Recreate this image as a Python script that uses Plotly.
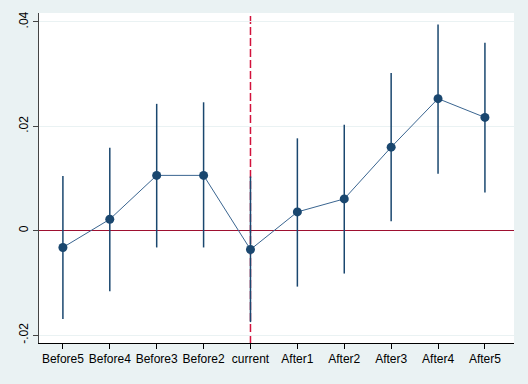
import plotly.graph_objects as go

categories = ["Before5", "Before4", "Before3", "Before2", "current",
              "After1", "After2", "After3", "After4", "After5"]
coef = [-0.0032, 0.0022, 0.0106, 0.0106, -0.0036, 0.0036, 0.0061, 0.0160, 0.0253, 0.0217]
ci_low = [-0.0169, -0.0116, -0.0032, -0.0032, -0.0175, -0.0107, -0.0082, 0.0018, 0.0109, 0.0073]
ci_high = [0.0105, 0.0159, 0.0243, 0.0246, 0.0104, 0.0177, 0.0203, 0.0302, 0.0395, 0.0360]
y_tickvals = [-0.02, 0, 0.02, 0.04]
y_ticktext = ["-.02", "0", ".02", ".04"]

navy = "#1A476F"
err_plus = [h - c for h, c in zip(ci_high, coef)]
err_minus = [c - l for c, l in zip(coef, ci_low)]

fig = go.Figure()
fig.add_trace(go.Scatter(
    x=categories, y=coef, mode="lines+markers",
    line=dict(color="#3A6590", width=1),
    marker=dict(color=navy, size=9),
    error_y=dict(type="data", symmetric=False, array=err_plus, arrayminus=err_minus,
                 color=navy, thickness=1.5, width=0),
    showlegend=False,
))

fig.add_shape(type="line", xref="x", yref="paper", x0="current", x1="current",
              y0=0, y1=1, line=dict(color="#D2123C", width=1.5, dash="8px,3px"), layer="below")

fig.update_layout(
    width=528, height=384,
    margin=dict(l=39, r=14, t=13, b=41),
    paper_bgcolor="#EAF2F3", plot_bgcolor="white",
    font=dict(family="Liberation Sans, Arial, sans-serif", size=12, color="black"),
)
fig.update_xaxes(
    type="category", range=[-0.51, 9.62],
    showgrid=False, showline=True, linecolor="black", linewidth=1,
    ticks="outside", ticklen=5, tickcolor="black", zeroline=False,
)
fig.update_yaxes(
    range=[-0.0215, 0.0417],
    tickvals=y_tickvals, ticktext=y_ticktext, tickangle=-90,
    showgrid=True, gridcolor="#EAF2F3", gridwidth=1,
    showline=True, linecolor="#444444", linewidth=1,
    ticks="outside", ticklen=5, tickcolor="#444444",
    zeroline=True, zerolinecolor="#9E1030", zerolinewidth=1,
)

fig.write_html("out.html", config={"displayModeBar": False},
               post_script="document.body.style.margin='0';")
